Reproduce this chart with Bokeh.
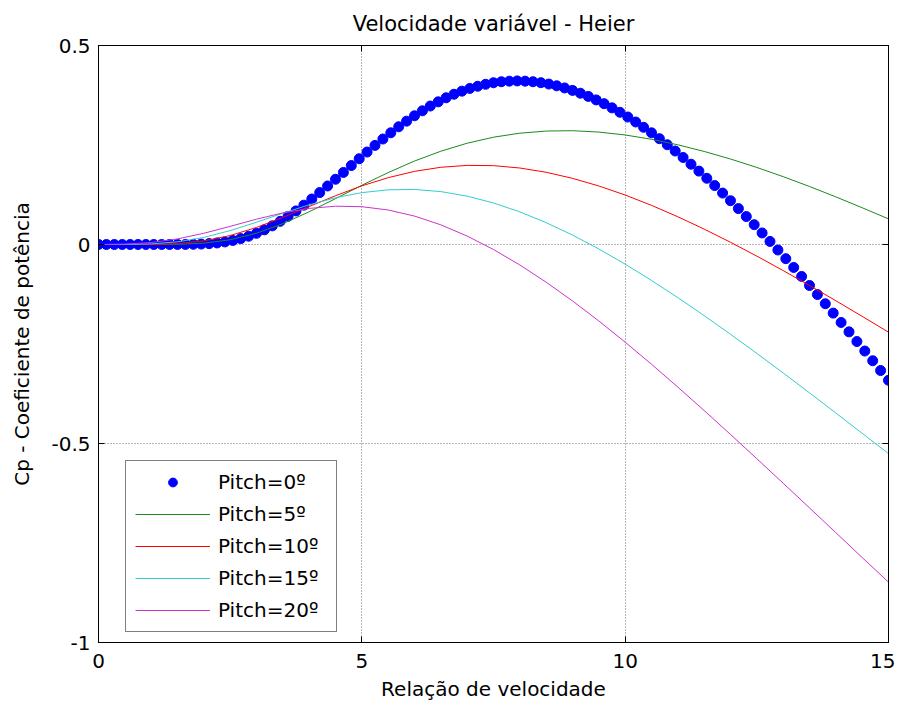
from bokeh.plotting import figure
from bokeh.models import Range1d, LinearAxis, FixedTicker, CustomJSTickFormatter
from bokeh.embed import file_html
from bokeh.resources import INLINE

# ---------------- data ----------------
tsr_dots = [0.0, 0.15, 0.3, 0.45, 0.6, 0.75, 0.9, 1.05, 1.2, 1.35,
            1.5, 1.65, 1.8, 1.95, 2.1, 2.25, 2.4, 2.55, 2.7, 2.85,
            3.0, 3.15, 3.3, 3.45, 3.6, 3.75, 3.9, 4.05, 4.2, 4.35,
            4.5, 4.65, 4.8, 4.95, 5.1, 5.25, 5.4, 5.55, 5.7, 5.85,
            6.0, 6.15, 6.3, 6.45, 6.6, 6.75, 6.9, 7.05, 7.2, 7.35,
            7.5, 7.65, 7.8, 7.95, 8.1, 8.25, 8.4, 8.55, 8.7, 8.85,
            9.0, 9.15, 9.3, 9.45, 9.6, 9.75, 9.9, 10.05, 10.2, 10.35,
            10.5, 10.65, 10.8, 10.95, 11.1, 11.25, 11.4, 11.55, 11.7, 11.85,
            12.0, 12.15, 12.3, 12.45, 12.6, 12.75, 12.9, 13.05, 13.2, 13.35,
            13.5, 13.65, 13.8, 13.95, 14.1, 14.25, 14.4, 14.55, 14.7, 14.85,
            15.0]
cp_pitch0 = [0, 0, 0, 0, 0, 0, 0, 0, 0, 0,
             0.0001, 0.0002, 0.0005, 0.0011, 0.0022, 0.0039, 0.0065, 0.0101, 0.0148, 0.0208,
             0.0281, 0.0368, 0.0468, 0.0582, 0.0708, 0.0844, 0.0989, 0.1143, 0.1304, 0.1470,
             0.1639, 0.1811, 0.1983, 0.2154, 0.2323, 0.2490, 0.2650, 0.2807, 0.2958, 0.3099,
             0.3234, 0.3359, 0.3479, 0.3584, 0.3686, 0.3775, 0.3853, 0.3921, 0.3976, 0.4025,
             0.4064, 0.4089, 0.4104, 0.4110, 0.4104, 0.4090, 0.4066, 0.4031, 0.3987, 0.3934,
             0.3872, 0.3801, 0.3721, 0.3633, 0.3538, 0.3433, 0.3322, 0.3203, 0.3078, 0.2945,
             0.2806, 0.2659, 0.2506, 0.2349, 0.2186, 0.2017, 0.1844, 0.1664, 0.1481, 0.1292,
             0.1100, 0.0902, 0.0702, 0.0498, 0.0290, 0.0077, -0.0138, -0.0356, -0.0577, -0.0802,
             -0.1030, -0.1258, -0.1489, -0.1724, -0.1959, -0.2195, -0.2438, -0.2677, -0.2921, -0.3167,
             -0.3412]

tsr_lines = [0, 0.5, 1, 1.5, 2, 2.5, 3, 3.5, 4, 4.5, 5, 5.5, 6, 6.5, 7, 7.5,
             8, 8.5, 9, 9.5, 10, 10.5, 11, 11.5, 12, 12.5, 13, 13.5, 14, 14.5, 15]
cp_pitch5 = [0, 0, 0, 0.0004, 0.0033, 0.0119, 0.0283, 0.0524, 0.0822, 0.1152,
             0.1488, 0.1807, 0.2097, 0.2344, 0.2545, 0.2696, 0.2797, 0.2850, 0.2859, 0.2825,
             0.2752, 0.2644, 0.2505, 0.2338, 0.2148, 0.1936, 0.1705, 0.1458, 0.1197, 0.0924,
             0.0644]
cp_pitch10 = [0, 0, 0.0002, 0.0023, 0.0090, 0.0225, 0.0428, 0.0681, 0.0955, 0.1226,
              0.1473, 0.1679, 0.1838, 0.1940, 0.1988, 0.1981, 0.1922, 0.1815, 0.1662, 0.1471,
              0.1243, 0.0984, 0.0697, 0.0387, 0.0056, -0.0292, -0.0655, -0.1029, -0.1413, -0.1805,
              -0.2203]
cp_pitch15 = [0, 0.0001, 0.0015, 0.0067, 0.0178, 0.0349, 0.0560, 0.0785, 0.0997, 0.1175,
              0.1303, 0.1374, 0.1383, 0.1329, 0.1215, 0.1043, 0.0820, 0.0549, 0.0237, -0.0112,
              -0.0494, -0.0903, -0.1335, -0.1787, -0.2255, -0.2737, -0.3228, -0.3728, -0.4234, -0.4744,
              -0.5254]
cp_pitch20 = [0, 0.0010, 0.0049, 0.0140, 0.0282, 0.0456, 0.0636, 0.0794, 0.0907, 0.0962,
              0.0950, 0.0867, 0.0714, 0.0494, 0.0212, -0.0126, -0.0514, -0.0947, -0.1418, -0.1922,
              -0.2454, -0.3009, -0.3583, -0.4172, -0.4773, -0.5382, -0.5998, -0.6618, -0.7240, -0.7864,
              -0.8484]

legend_labels = ["Pitch=0º", "Pitch=5º", "Pitch=10º", "Pitch=15º", "Pitch=20º"]
x_ticks = [0, 5, 10, 15]
x_tick_labels = ["0", "5", "10", "15"]
y_ticks = [-1, -0.5, 0, 0.5]
y_tick_labels = ["-1", "-0.5", "0", "0.5"]

title_text = "Velocidade variável - Heier"
x_label = "Relação de velocidade"
y_label = "Cp - Coeficiente de potência"

# ---------------- figure ----------------
FONT = "DejaVu Sans"

p = figure(frame_width=790, frame_height=597,
           x_range=Range1d(0, 15), y_range=Range1d(-1, 0.5),
           output_backend="svg", toolbar_location=None,
           title=title_text, x_axis_label=x_label, y_axis_label=y_label,
           min_border_left=98, min_border_top=45, min_border_right=7,
           min_border_bottom=40)

p.background_fill_color = "white"
p.border_fill_color = "white"
p.outline_line_color = "black"
p.outline_line_width = 1

p.title.align = "center"
p.title.text_font = FONT
p.title.text_font_size = "21px"
p.title.text_font_style = "normal"
p.title.text_color = "black"
p.title.standoff = 19

for ax, ticks, labels in ((p.xaxis[0], x_ticks, x_tick_labels), (p.yaxis[0], y_ticks, y_tick_labels)):
    ax.ticker = FixedTicker(ticks=ticks)
    ax.major_label_overrides = {t: l for t, l in zip(ticks, labels)}
    ax.major_tick_in = 6
    ax.major_tick_out = 0
    ax.minor_tick_line_color = None
    ax.axis_line_color = "black"
    ax.major_tick_line_color = "black"
    ax.major_label_text_font = FONT
    ax.major_label_text_font_size = "20px"
    ax.major_label_text_color = "black"
    ax.axis_label_text_font = FONT
    ax.axis_label_text_font_size = "20px"
    ax.axis_label_text_font_style = "normal"
    ax.axis_label_text_color = "black"

p.xaxis[0].major_label_standoff = 11
p.yaxis[0].major_label_standoff = 8
p.xaxis[0].axis_label_standoff = 6
p.yaxis[0].axis_label_standoff = 14

blank = CustomJSTickFormatter(code="return ''")
right_ax = LinearAxis(ticker=FixedTicker(ticks=y_ticks), formatter=blank,
                      major_tick_in=6, major_tick_out=0, minor_tick_line_color=None,
                      major_label_standoff=0, axis_line_color="black")
top_ax = LinearAxis(ticker=FixedTicker(ticks=x_ticks), formatter=blank,
                    major_tick_in=6, major_tick_out=0, minor_tick_line_color=None,
                    major_label_standoff=0, axis_line_color="black")
p.add_layout(right_ax, "right")
p.add_layout(top_ax, "above")

for g, ticks in ((p.xgrid[0], x_ticks), (p.ygrid[0], y_ticks)):
    g.ticker = FixedTicker(ticks=ticks)
    g.grid_line_color = "#6e6e6e"
    g.grid_line_dash = "1 2"
    g.grid_line_width = 1

# ---------------- series ----------------
p.scatter(tsr_dots, cp_pitch0, size=10, color="#0000ff", legend_label=legend_labels[0])
p.line(tsr_lines, cp_pitch5, line_color="#1a8a1a", line_width=1, legend_label=legend_labels[1])
p.line(tsr_lines, cp_pitch10, line_color="#ff0000", line_width=1, legend_label=legend_labels[2])
p.line(tsr_lines, cp_pitch15, line_color="#33cccc", line_width=1, legend_label=legend_labels[3])
p.line(tsr_lines, cp_pitch20, line_color="#cc33cc", line_width=1, legend_label=legend_labels[4])

lg = p.legend[0]
lg.location = (27, 10)
lg.border_line_color = "black"
lg.border_line_width = 1.5
lg.background_fill_color = "white"
lg.background_fill_alpha = 1
lg.label_text_font = FONT
lg.label_text_font_size = "20px"
lg.label_text_color = "black"
lg.glyph_width = 75
lg.glyph_height = 22
lg.label_height = 22
lg.label_width = 109
lg.label_standoff = 8
lg.spacing = 8
lg.padding = 9
lg.margin = 0

open("out.html", "w").write(file_html(p, INLINE))
